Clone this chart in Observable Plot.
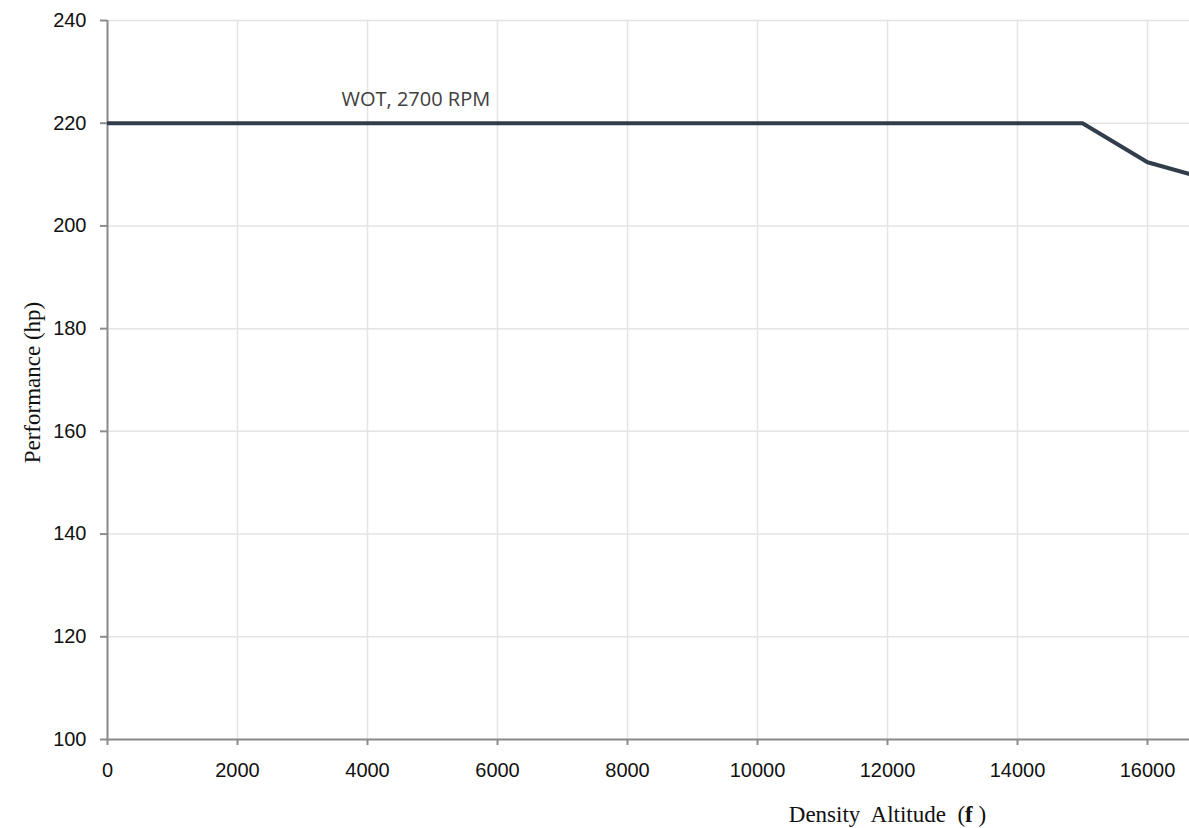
<!DOCTYPE html>
<html>
<head>
<meta charset="utf-8">
<script src="https://cdn.jsdelivr.net/npm/d3@7"></script>
<script src="https://cdn.jsdelivr.net/npm/@observablehq/plot@0.6"></script>
<style>
  html, body { margin: 0; padding: 0; background: #fff; }
  #chart svg { display: block; }
</style>
</head>
<body>
<div id="chart"></div>
<script>
const altitude = [0, 15000, 16000, 16650];
const horsepower = [220, 220, 212.4, 210.1];
const xTicks = [0, 2000, 4000, 6000, 8000, 10000, 12000, 14000, 16000];
const yTicks = [100, 120, 140, 160, 180, 200, 220, 240];
const seriesLabel = "WOT, 2700 RPM";
const xTitle = "Density Altitude  (f )";
const yTitle = "Performance (hp)";

const data = altitude.map((a, i) => ({altitude: a, hp: horsepower[i]}));

const tickFont = "'Liberation Sans', Arial, sans-serif";
const serif = "'Liberation Serif', 'Times New Roman', serif";

const chart = Plot.plot({
  width: 1189,
  height: 828,
  marginLeft: 107,
  marginRight: 0,
  marginTop: 20,
  marginBottom: 89,
  style: {background: "#fff", overflow: "visible"},
  x: {domain: [0, 16646]},
  y: {domain: [100, 240]},
  marks: [
    Plot.gridX(xTicks, {stroke: "#e4e4e4", strokeOpacity: 1, strokeWidth: 1.5}),
    Plot.gridY(yTicks, {stroke: "#e4e4e4", strokeOpacity: 1, strokeWidth: 1.5}),
    Plot.axisX(xTicks, {tickSize: 6, tickPadding: 17, stroke: "#8c8c8c", strokeWidth: 2,
      fontSize: 20, fill: "#111", fontFamily: tickFont, label: null, tickFormat: d => String(d)}),
    Plot.axisY(yTicks, {tickSize: 7, tickPadding: 14, stroke: "#8c8c8c", strokeWidth: 2,
      fontSize: 20, fill: "#111", fontFamily: tickFont, label: null, tickFormat: d => String(d)}),
    Plot.ruleY([100], {stroke: "#8c8c8c", strokeWidth: 2}),
    Plot.ruleX([0], {stroke: "#8c8c8c", strokeWidth: 2}),
    Plot.line(data, {x: "altitude", y: "hp", stroke: "#323d4c", strokeWidth: 4, clip: true}),
    Plot.text([seriesLabel], {x: 3600, y: 224.6, text: d => d, textAnchor: "start",
      fontSize: 20, fill: "#404040", fontFamily: "'Open Sans', 'DejaVu Sans', sans-serif"}),
    Plot.text([xTitle], {x: 12000, frameAnchor: "bottom", textAnchor: "middle", dy: 82, text: d => d,
      fontSize: 23, fill: "#111", fontFamily: serif, className: "xtitle"}),
    Plot.text([yTitle], {y: 169.5, frameAnchor: "left", textAnchor: "middle", dx: -75, rotate: -90, text: d => d,
      fontSize: 23, fill: "#111", fontFamily: serif})
  ]
});
document.getElementById("chart").appendChild(chart);
// bold "f" in x-axis title
const t = chart.querySelector(".xtitle text");
if (t) {
  t.textContent = "";
  const parts = [["Density  Altitude  (", "normal"], ["f", "bold"], [" )", "normal"]];
  for (const [s, w] of parts) {
    const ts = document.createElementNS("http://www.w3.org/2000/svg", "tspan");
    ts.textContent = s;
    ts.setAttribute("font-weight", w);
    t.appendChild(ts);
  }
  t.setAttribute("style", "white-space:pre");
}
</script>
</body>
</html>
